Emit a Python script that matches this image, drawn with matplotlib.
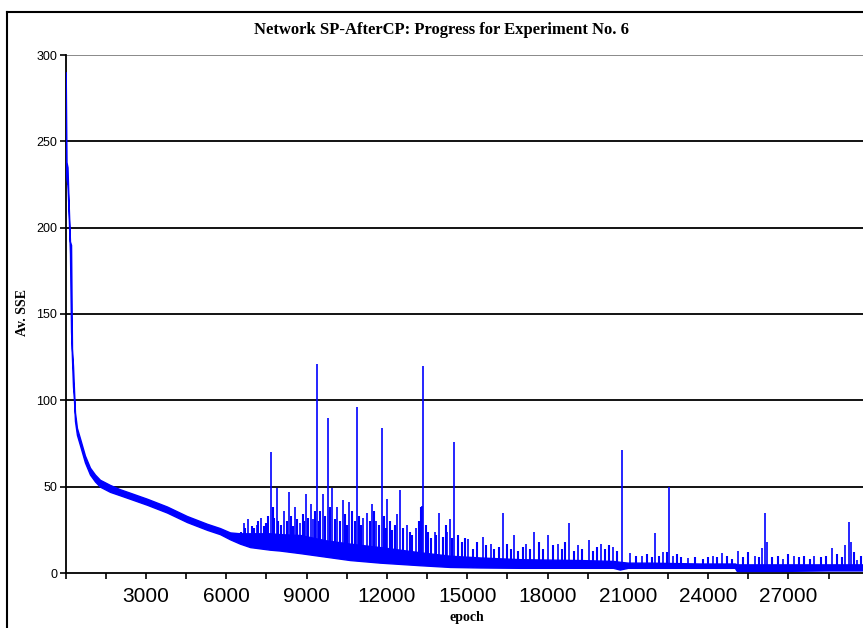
import numpy as np
import matplotlib
matplotlib.use("Agg")
import matplotlib.pyplot as plt
from matplotlib.lines import Line2D

# solid band of the training curve: epoch, lower edge, upper edge
env_epoch = [0, 30, 67, 105, 160, 200, 235, 273, 310, 347, 420, 534, 720, 908,
             1095, 1280, 1655, 2030, 2400, 3040, 3785, 4530, 5280, 5765, 6140,
             6510, 6890, 7630, 8000, 8760, 9690, 10620, 11740, 13240, 14360,
             15480, 16970, 19210, 20450, 20700, 21000, 21820, 23690, 25000,
             25070, 26680, 28550, 30000]
env_low = [236, 228, 225, 210, 185, 140, 124, 108, 100, 88, 80, 74, 64, 57,
           53, 50, 47, 45, 43, 39.5, 35, 29.5, 25, 22.5, 19.5,
           17, 15, 13.5, 13, 11.5, 9.5, 7.5, 6, 4.5, 3.5,
           3.2, 3, 3, 3, 2, 3, 3, 3, 3,
           1.2, 1.2, 1.5, 1.5]
env_high = [290, 238, 235, 216, 192, 190, 130, 120, 106, 93, 84, 78, 68, 61,
            57, 54, 51, 48.5, 46.5, 43, 38.5, 33, 28.5, 26, 23.5,
            23, 23, 23, 22.5, 22, 19, 17, 15, 12, 10,
            9, 8, 7.5, 7, 6.5, 6, 6, 5.5, 5.5,
            5, 5, 5, 5]

# isolated spikes: epoch, base, peak
spike_epoch = [6660, 6810, 7150, 7300, 7670, 7900, 8150, 8350, 8550, 8760, 8990,
               9150, 9240, 9390, 9610, 9800, 9950, 10150, 10360, 10590, 10880,
               11100, 11260, 11440, 11600, 11820, 12010, 12380, 12500, 12750,
               13100, 13300, 13350, 13780, 13950, 14250, 14360, 14510, 15030,
               15580, 15890, 16340, 16750, 17200, 17500, 18020, 18390, 18800,
               19140, 19550, 20000, 20450, 20780, 21100, 21530, 22010, 22310,
               22540, 22690, 23250, 24180, 24520, 25120, 25760, 26010, 26130,
               26200, 26800, 27210, 27960, 28630, 29120, 29260, 29340, 29560]
spike_low = [17, 16, 15, 14, 14, 14, 13, 13, 12, 12, 12,
             11, 11, 11, 11, 10, 10, 9, 9, 8, 8,
             7, 7, 7, 6, 6, 6, 5, 5, 5,
             5, 5, 5, 4, 4, 4, 4, 4, 3,
             3, 3, 3, 3, 3, 3, 3, 3, 3,
             3, 3, 3, 3, 2, 3, 3, 3, 3,
             3, 3, 3, 3, 3, 1.5, 1.5, 1.5, 1.5,
             1.5, 1.5, 1.5, 1.5, 1.5, 1.5, 1.5, 1.5, 1.5]
spike_high = [29, 31, 28, 32, 70, 49, 36, 47, 38, 29, 46,
              40, 31, 121, 46, 90, 49, 38, 42, 41, 96,
              32, 35, 40, 30, 84, 43, 34, 48, 28,
              26, 39, 120, 24, 35, 24, 31, 76, 19.5,
              21, 17, 34.6, 22, 17, 24, 22, 17, 29,
              16, 19, 17, 15, 71, 11.5, 10, 23, 12,
              50, 10, 8.7, 10, 11.5, 13, 10, 14.5, 35,
              18, 8, 10, 10, 14.5, 16, 29.5, 18, 7.5]

# smaller noise peaks on top of the band
comb_epoch = [6550, 6700, 6950, 7050, 7200, 7400, 7500, 7560, 7750, 7800, 7950,
              8050, 8250, 8420, 8480, 8650, 8850, 8920, 9050, 9300, 9450, 9500,
              9700, 9880, 10050, 10250, 10450, 10500, 10700, 10800, 10950,
              11050, 11350, 11500, 11700, 11900, 11950, 12100, 12200, 12300,
              12600, 12850, 12950, 13200, 13280, 13450, 13550, 13650, 13850,
              14100, 14200, 14420, 14650, 14800, 14900, 15200, 15350, 15700,
              16000, 16200, 16500, 16650, 16900, 17100, 17350, 17700, 17850,
              18200, 18550, 18650, 19000, 19300, 19700, 19850, 20150, 20300,
              20600, 21300, 21700, 21900, 22150, 22450, 22850, 23000, 23500,
              23800, 24000, 24350, 24700, 24900, 25300, 25500, 25900, 26400,
              26600, 27000, 27400, 27600, 27800, 28200, 28400, 28800, 29000,
              29450, 29700, 29900]
comb_low = [17, 16, 15, 15, 14, 14, 14, 14, 14, 14, 13,
            13, 13, 13, 13, 12, 12, 12, 12, 11, 11, 11,
            10, 10, 10, 9, 9, 9, 8, 8, 8,
            7, 7, 7, 6, 6, 6, 6, 6, 6,
            5, 5, 5, 5, 5, 5, 5, 4, 4,
            4, 4, 4, 4, 4, 4, 3, 3, 3,
            3, 3, 3, 3, 3, 3, 3, 3, 3,
            3, 3, 3, 3, 3, 3, 3, 3, 3,
            3, 3, 3, 3, 3, 3, 3, 3, 3,
            3, 3, 3, 3, 3, 1.5, 1.5, 1.5, 1.5,
            1.5, 1.5, 1.5, 1.5, 1.5, 1.5, 1.5, 1.5, 1.5,
            1.5, 1.5, 1.5]
comb_high = [24, 26, 27, 26, 30, 27, 29, 33, 38, 32, 30,
             28, 30, 33, 27, 31, 34, 30, 32, 36, 30, 36,
             33, 38, 31, 30, 34, 28, 36, 30, 33,
             28, 30, 36, 28, 33, 26, 30, 25, 28,
             26, 24, 22, 30, 38, 28, 24, 20, 22,
             21, 28, 20, 22, 18, 20, 14, 18, 16,
             14, 15, 17, 14, 13, 15, 14, 18, 14,
             16, 14, 18, 13, 14, 13, 15, 14, 16,
             13, 10, 11, 9, 10, 12, 11, 9, 9,
             8, 9, 9, 10, 8, 9, 12, 9, 9,
             10, 11, 9, 10, 8, 9, 10, 11, 9,
             12, 10, 9]

y_ticks = [0, 50, 100, 150, 200, 250, 300]
x_ticks = list(range(0, 30001, 1500))
x_labels = [str(t) if t % 3000 == 0 and 0 < t < 30000 else '' for t in x_ticks]

W, H = 863, 628
fig = plt.figure(figsize=(W / 100, H / 100), dpi=100)
ax = fig.add_axes([65.7 / W, 1 - 573 / H, 803 / W, 518 / H])

blue = '#0000ff'
ax.fill_between(env_epoch, env_low, env_high, color=blue, lw=1.0, zorder=3)
ax.vlines(spike_epoch, spike_low, spike_high, color=blue, lw=1.2, zorder=3)
ax.vlines(comb_epoch, comb_low, comb_high, color=blue, lw=1.5, zorder=3)

ax.set_xlim(0, 30000)
ax.set_ylim(0, 300)

# gridlines
for v in y_ticks[1:]:
    ax.axhline(v, color='#808080' if v == 300 else 'black', lw=1.3, zorder=1)

for s in ['top', 'right']:
    ax.spines[s].set_visible(False)
ax.spines['left'].set_linewidth(1.3)
ax.spines['bottom'].set_linewidth(1.3)

ax.set_yticks(y_ticks)
ax.set_yticklabels([str(v) for v in y_ticks], fontsize=9, family='Liberation Sans')
ax.set_xticks(x_ticks)
ax.set_xticklabels(x_labels, fontsize=15, family='Liberation Sans')
ax.tick_params(axis='both', direction='out', length=4, width=1.2, colors='black')
ax.tick_params(axis='x', pad=6)
ax.tick_params(axis='y', pad=2)

fig.text(441 / W, 1 - 30 / H, 'Network SP-AfterCP: Progress for Experiment No. 6',
         ha='center', va='center', fontsize=12, fontweight='bold', family='Liberation Serif')
fig.text(22 / W, 1 - 312 / H, 'Av. SSE', rotation=90, ha='center', va='center',
         fontsize=10, fontweight='bold', family='Liberation Serif')
fig.text(467 / W, 1 - 618 / H, 'epoch', ha='center', va='center',
         fontsize=10, fontweight='bold', family='Liberation Serif')

# outer chart border
fig.add_artist(Line2D([7 / W, 7 / W], [0, 1 - 12 / H], color='black', lw=1.5))
fig.add_artist(Line2D([7 / W, 1], [1 - 12 / H, 1 - 12 / H], color='black', lw=1.5))

fig.savefig('out.png', dpi=100)
